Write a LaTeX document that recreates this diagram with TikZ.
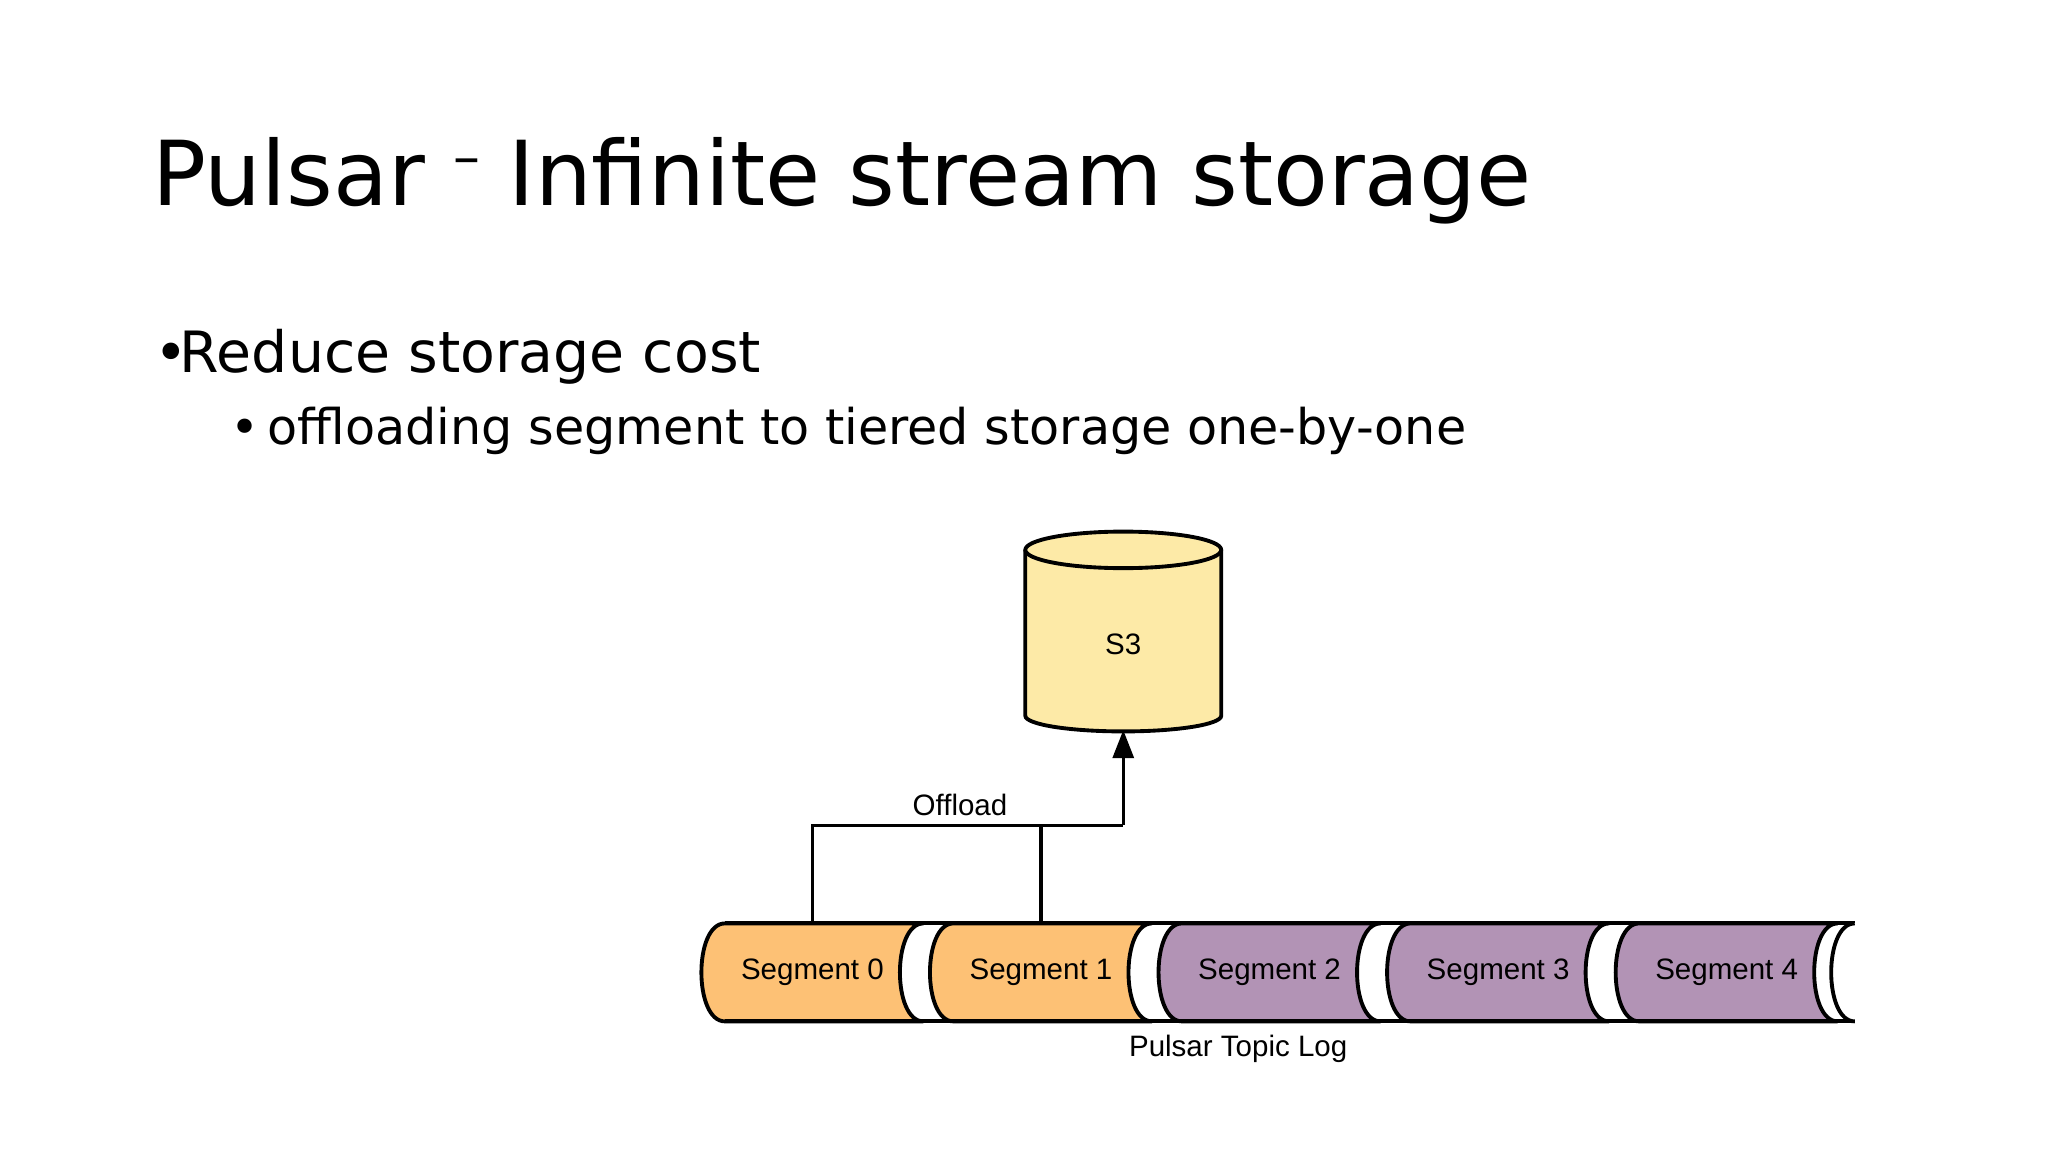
\documentclass[tikz,border=0pt]{standalone}
\usepackage{fontspec}
\setmainfont{DejaVu Sans}
\newfontfamily\diagfont{Liberation Sans}
\usetikzlibrary{arrows.meta}
\definecolor{segorange}{HTML}{FDC175}
\definecolor{segpurple}{HTML}{B293B5}
\definecolor{dbyellow}{HTML}{FDEAA7}
\tikzset{
  seglabel/.style={font=\diagfont\fontsize{8.4}{10}\selectfont, minimum height=0.98cm, inner sep=0pt},
  segline/.style={draw=black, line width=1.1pt},
  conn/.style={draw=black, line width=0.9pt}
}
\begin{document}
\begin{tikzpicture}[x=0.01306cm, y=-0.01306cm]
\useasboundingbox (0,0) rectangle (1568,882);

% slide text
\node[anchor=base west, inner sep=0pt, font=\fontsize{25.5}{30}\selectfont] (title) at (116,157) {Pulsar \raisebox{0.6ex}{\scalebox{0.6}{--}} Infinite stream storage};
\node[anchor=base west, inner sep=0pt, font=\fontsize{16.2}{20}\selectfont] (bul1) at (118,285) {\textbullet\hspace{-0.15em}Reduce storage cost};
\node[anchor=base west, inner sep=0pt, font=\fontsize{14}{17}\selectfont] (bul2) at (176,340) {\textbullet\,offloading segment to tiered storage one-by-one};

% topic log
\foreach \i/\col in {0/segorange, 1/segorange, 2/segpurple, 3/segpurple, 4/segpurple} {
  \pgfmathsetmacro{\xa}{555+175*\i}
  \pgfmathsetmacro{\xb}{707+175*\i}
  \path[segline, fill=\col] (\xa,707) -- (\xb,707)
    .. controls (\xb-24,707) and (\xb-24,782) .. (\xb,782) -- (\xa,782)
    .. controls (\xa-24,782) and (\xa-24,707) .. (\xa,707) -- cycle;
  \node[seglabel] (seg\i) at ({(\xa+\xb)/2-9},744.5) {Segment \i};
}
\draw[segline] (555,707) -- (1420,707);
\draw[segline] (555,782) -- (1420,782);
\draw[segline, fill=white] (1420,707) .. controls (1396,707) and (1396,782) .. (1420,782);
\node[font=\diagfont\fontsize{8.4}{10}\selectfont] (log) at (948,803) {Pulsar Topic Log};

% S3 store
\path[segline, fill=dbyellow] (785,421) -- (785,548) arc[start angle=180, end angle=360, x radius=75, y radius=-12] -- (935,421);
\draw[segline, fill=dbyellow] (860,421) ellipse[x radius=75, y radius=14];
\node[minimum width=1.96cm, minimum height=1.7cm, inner sep=0pt, font=\diagfont\fontsize{8.4}{10}\selectfont] (s3) at (860,493) {S3};

% offload
\coordinate (join) at (860,632);
\draw[conn] (seg0.north) |- (join);
\draw[conn] (seg1.north) |- (join);
\draw[conn, -{Triangle[length=8pt, width=6pt]}] (join) -- (860,559);
\node[font=\diagfont\fontsize{8.4}{10}\selectfont] (offl) at (735,616) {Offload};
\end{tikzpicture}
\end{document}
